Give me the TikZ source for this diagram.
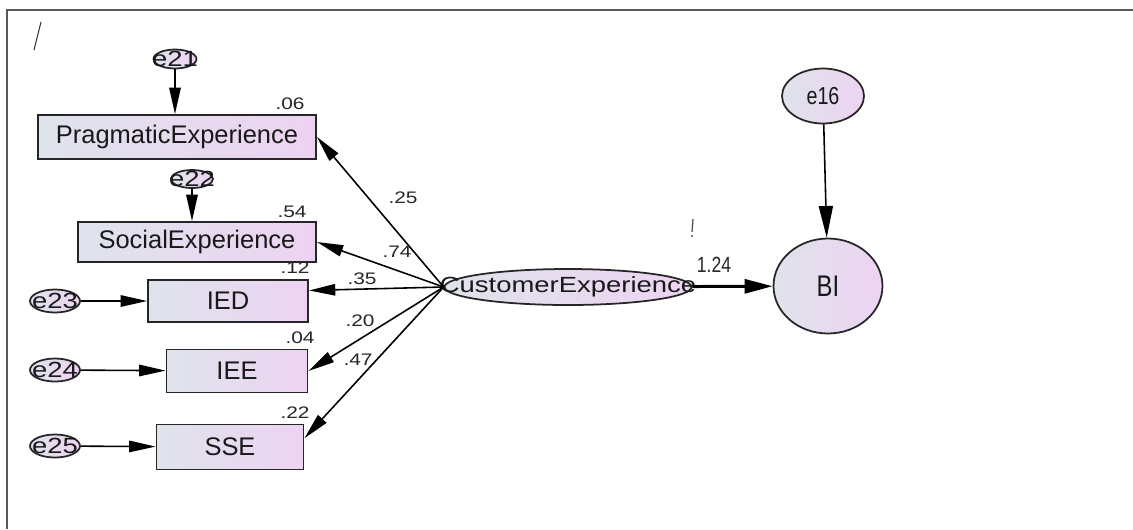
\documentclass[tikz,border=0pt]{standalone}
\usepackage{fontspec}
\setmainfont{Liberation Sans}
\newfontfamily\larga[FakeStretch=1.25]{Liberation Sans}
\newfontfamily\stretta[FakeStretch=0.8]{Liberation Sans}
\usetikzlibrary{arrows.meta,shapes.geometric}
\definecolor{bordoScuro}{HTML}{262626}
\definecolor{tintaFredda}{HTML}{DFE3EC}
\definecolor{tintaRosa}{HTML}{EDD3F2}

\begin{document}
\begin{tikzpicture}[x=0.02cm,y=-0.02cm,
  casella/.style={draw=bordoScuro,line width=1.1pt,left color=tintaFredda,right color=tintaRosa,
    inner sep=0pt,text=black!90,font=\fontsize{14.5}{16}\selectfont},
  errore/.style={ellipse,draw=bordoScuro,line width=1pt,left color=tintaFredda,right color=tintaRosa,
    inner sep=0pt,label={[text=black!90,inner sep=0pt,font=\larga\fontsize{12.5}{14}\selectfont]center:#1}},
  latente/.style={ellipse,draw=bordoScuro,line width=1pt,left color=tintaFredda,right color=tintaRosa,
    inner sep=0pt,text=black!90},
  freccia/.style={draw=black,line width=0.9pt,-{Triangle[length=15pt,width=6.5pt]}},
  peso/.style={inner sep=0pt,text=black!85,font=\larga\fontsize{9.5}{11}\selectfont}]
  \useasboundingbox (0,0) rectangle (1133,529);
  % Cornice e segni sparsi della scansione.
  \draw[black!65,line width=1pt] (1133,10) -- (7,10) -- (7,529);
  \draw[black!80,line width=0.6pt] (41,22) -- (34,50);
  \draw[black!70,line width=0.7pt] (693,219) -- (692,232);
  \fill[black!70] (692,236) circle (1.2);
  % Indicatori osservati.
  \node[casella,minimum width=5.56cm,minimum height=0.88cm] (pe) at (177,137) {PragmaticExperience};
  \node[casella,minimum width=4.76cm,minimum height=0.80cm] (se) at (197,242) {SocialExperience};
  \node[casella,minimum width=3.20cm,minimum height=0.84cm] (ied) at (228,301) {IED};
  \node[casella,minimum width=2.82cm,minimum height=0.86cm] (iee) at (237,371) {IEE};
  \node[casella,minimum width=2.94cm,minimum height=0.90cm] (sse) at (230,447) {SSE};
  % Errori di misura.
  \node[errore=e21,minimum width=0.86cm,minimum height=0.38cm] (e21) at (175,59) {};
  \node[errore=e22,minimum width=0.84cm,minimum height=0.36cm] (e22) at (192,179) {};
  \foreach \nome/\y in {e23/301,e24/370,e25/446}
    \node[errore=\nome,minimum width=1.0cm,minimum height=0.46cm] (\nome) at (55,\y) {};
  % Variabili latenti.
  \node[latente,minimum width=4.94cm,minimum height=0.72cm,font=\larga\fontsize{12.5}{14}\selectfont]
    (ce) at (568,287) {\makebox[0pt]{CustomerExperience}};
  \node[latente,minimum width=2.18cm,minimum height=1.90cm,font=\stretta\fontsize{17}{19}\selectfont]
    (bi) at (828,286) {BI};
  \node[latente,minimum width=1.64cm,minimum height=1.10cm,font=\stretta\fontsize{14}{16}\selectfont]
    (e16) at (823,96) {e16};
  % Frecce degli errori.
  \draw[freccia] (e21) -- (e21 |- pe.north);
  \draw[freccia] (e22) -- (e22 |- se.north);
  \foreach \e/\voce in {e23/ied,e24/iee,e25/sse}
    \draw[freccia] (\e) -- (\voce);
  \draw[freccia,-{Triangle[length=18pt,width=8pt]}] (e16) -- (bi);
  % Saturazioni dal fattore verso gli indicatori.
  \draw[freccia] (ce.west) -- (pe.east);
  \draw[freccia] (ce.west) -- (se.east);
  \draw[freccia] (ce.west) -- ([yshift=6pt]ied.east);
  \draw[freccia] (ce.west) -- (iee.east);
  \draw[freccia] (ce.west) -- ([yshift=5pt]sse.east);
  \draw[freccia,line width=1.7pt,-{Triangle[length=16pt,width=8pt]}] (ce) -- (bi);
  % Coefficienti e quadrati delle correlazioni multiple.
  \node[peso] (l25) at (403,198) {.25};
  \node[peso] (l74) at (397,252) {.74};
  \node[peso] (l35) at (362,279) {.35};
  \node[peso] (l20) at (360,321) {.20};
  \node[peso] (l47) at (358,360) {.47};
  \node[peso,font=\stretta\fontsize{12.5}{14}\selectfont] (l124) at (714,265) {1.24};
  \node[peso] (r06) at (290,104) {.06};
  \node[peso] (r54) at (292,212) {.54};
  \node[peso] (r12) at (295,268) {.12};
  \node[peso] (r04) at (300,338) {.04};
  \node[peso] (r22) at (295,413) {.22};
\end{tikzpicture}
\end{document}
